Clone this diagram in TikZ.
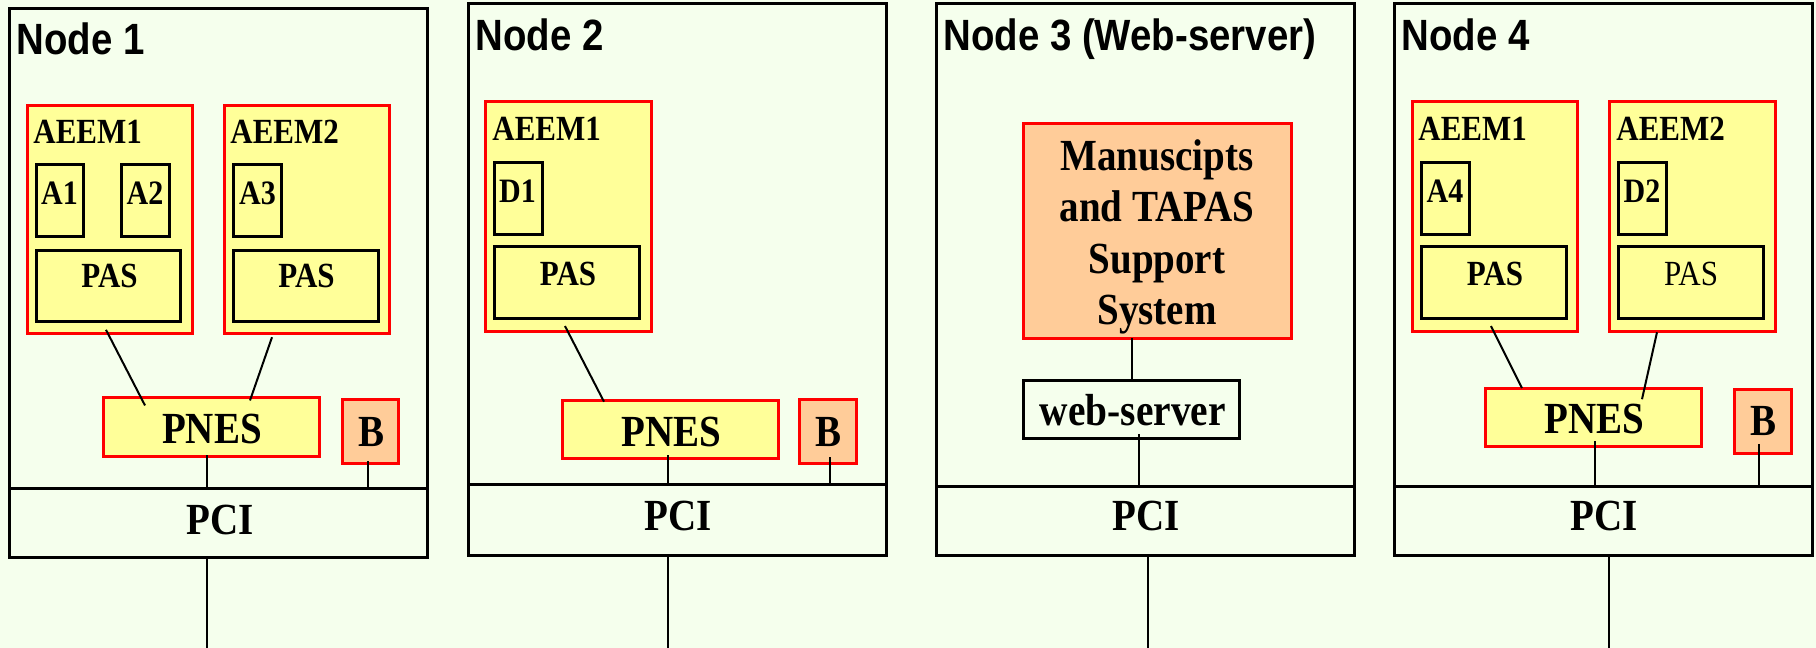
\documentclass[tikz,border=0pt]{standalone}
\usepackage{graphicx}
\usepackage{fontspec}
\setmainfont{Liberation Serif}
\newfontfamily\titlefont{Liberation Sans}
\usetikzlibrary{fit,calc}
\definecolor{bgc}{RGB}{245,255,237}
\definecolor{yel}{RGB}{255,255,153}
\definecolor{peach}{RGB}{255,204,153}
\definecolor{redb}{RGB}{255,0,0}
\newcommand{\ys}[1]{\scalebox{1}[1.14]{#1}}
\tikzset{
  nodebox/.style={draw=black, line width=1.5pt, inner sep=0pt, outer sep=0pt, rectangle},
  aeem/.style={draw=redb, fill=yel, line width=1.5pt, inner sep=0pt, outer sep=0pt, rectangle},
  inbox/.style={draw=black, fill=yel, line width=1.5pt, inner sep=0pt, outer sep=0pt, rectangle},
  bbox/.style={draw=redb, fill=peach, line width=1.5pt, inner sep=0pt, outer sep=0pt, rectangle},
  wsbox/.style={draw=black, fill=bgc, line width=1.5pt, inner sep=0pt, outer sep=0pt, rectangle},
  titletext/.style={font=\titlefont\bfseries\fontsize{19.2}{21}\selectfont, anchor=base west, inner sep=0pt},
  labtext/.style={font=\bfseries\fontsize{15.5}{17}\selectfont, anchor=base west, inner sep=0pt},
  smalltext/.style={font=\bfseries\fontsize{15}{17}\selectfont, anchor=base, inner sep=0pt},
  pastext/.style={font=\bfseries\fontsize{15.5}{17}\selectfont, anchor=base, inner sep=0pt},
  bigtext/.style={font=\bfseries\fontsize{19.5}{21}\selectfont, anchor=base, inner sep=0pt},
  link/.style={draw=black, line width=1pt},
}
\begin{document}
\begin{tikzpicture}[x=0.5pt, y=-0.6199pt]
\fill[bgc] (0,0) rectangle (1816,522.66);
\useasboundingbox (0,0) rectangle (1816,522.66);

% ---------------- Node 1 ----------------
\node[nodebox, fit={(9,7)(427,450)}] (n1) {};
\node[nodebox, fit={(9,394)(427,450)}] (n1pci) {};
\node[bigtext] (n1pcit) at (220,431) {\ys{PCI}};
\node[titletext] (n1t) at (16,44) {\ys{Node 1}};
\node[aeem, fit={(27,85)(192,269)}] (n1e1) {};
\node[labtext] (n1e1t) at (33,116) {\ys{AEEM1}};
\node[inbox, fit={(36,133)(83,191)}] (n1a1) {};
\node[smalltext] (n1a1t) at (59.5,165) {\ys{A1}};
\node[inbox, fit={(121,133)(169,191)}] (n1a2) {};
\node[smalltext] (n1a2t) at (145,165) {\ys{A2}};
\node[inbox, fit={(36,202)(180,259)}] (n1p1) {};
\node[pastext] (n1p1t) at (109.5,232) {\ys{PAS}};
\node[aeem, fit={(224,85)(389,269)}] (n1e2) {};
\node[labtext] (n1e2t) at (230,116) {\ys{AEEM2}};
\node[inbox, fit={(233,133)(281,191)}] (n1a3) {};
\node[smalltext] (n1a3t) at (257.5,165) {\ys{A3}};
\node[inbox, fit={(233,202)(378,259)}] (n1p2) {};
\node[pastext] (n1p2t) at (306.5,232) {\ys{PAS}};
\node[aeem, fit={(103,321)(319,368)}] (n1pnes) {};
\node[bigtext] (n1pnest) at (212,358) {\ys{PNES}};
\node[bbox, fit={(342,322)(398,374)}] (n1b) {};
\node[bigtext] (n1bt) at (372,360) {\ys{B}};
\draw[link] ($(n1e1.south west)+(79,-3)$) -- ($(n1pnes.north west)+(42,6)$);
\draw[link] ($(n1e2.south west)+(48,3)$) -- ($(n1pnes.north west)+(147,2)$);
\draw[link] ($(n1pnes.south west)+(104,-1)$) -- ($(n1pci.north west)+(198,0)$);
\draw[link] ($(n1b.south west)+(26,-2)$) -- ($(n1pci.north west)+(359,0)$);
\coordinate (n1end) at (207,522.66);
\draw[link] ($(n1pci.south west)+(198,0)$) -- (n1end);

% ---------------- Node 2 ----------------
\node[nodebox, fit={(468,3)(886,448)}] (n2) {};
\node[nodebox, fit={(468,391)(886,448)}] (n2pci) {};
\node[bigtext] (n2pcit) at (678.5,428) {\ys{PCI}};
\node[titletext] (n2t) at (475,41) {\ys{Node 2}};
\node[aeem, fit={(485,82)(651,267)}] (n2e1) {};
\node[labtext] (n2e1t) at (492,113) {\ys{AEEM1}};
\node[inbox, fit={(494,131)(542,189)}] (n2d1) {};
\node[smalltext] (n2d1t) at (517.5,163) {\ys{D1}};
\node[inbox, fit={(494,199)(639,257)}] (n2p1) {};
\node[pastext] (n2p1t) at (568,230) {\ys{PAS}};
\node[aeem, fit={(562,323)(778,370)}] (n2pnes) {};
\node[bigtext] (n2pnest) at (671.5,360) {\ys{PNES}};
\node[bbox, fit={(799,322)(856,374)}] (n2b) {};
\node[bigtext] (n2bt) at (828.5,360) {\ys{B}};
\draw[link] ($(n2e1.south west)+(80,-4)$) -- ($(n2pnes.north west)+(42,1)$);
\draw[link] ($(n2pnes.south west)+(106,-3)$) -- ($(n2pci.north west)+(200,0)$);
\draw[link] ($(n2b.south west)+(31,-5)$) -- ($(n2pci.north west)+(362,0)$);
\coordinate (n2end) at (668,522.66);
\draw[link] ($(n2pci.south west)+(200,0)$) -- (n2end);

% ---------------- Node 3 ----------------
\node[nodebox, fit={(936,3)(1354,448)}] (n3) {};
\node[nodebox, fit={(936,392)(1354,448)}] (n3pci) {};
\node[bigtext] (n3pcit) at (1146,428) {\ys{PCI}};
\node[titletext] (n3t) at (943,41) {\ys{Node 3 (Web-server)}};
\node[bbox, fit={(1023,100)(1291,273)}] (n3ms) {};
\node[font=\bfseries\fontsize{19.5}{25.7}\selectfont, align=center, inner sep=0pt] (n3mst) at (1157,191) {\ys{Manuscipts}\\\ys{and TAPAS}\\\ys{Support}\\\ys{System}};
\node[wsbox, fit={(1023,307)(1239,354)}] (n3ws) {};
\node[font=\bfseries\fontsize{19.7}{21}\selectfont, anchor=base, inner sep=0pt] (n3wst) at (1132.7,343) {\ys{web-server}};
\draw[link] ($(n3ms.south west)+(109,0)$) -- ($(n3ws.north west)+(109,0)$);
\draw[link] ($(n3ws.south west)+(116,-4)$) -- ($(n3pci.north west)+(203,0)$);
\coordinate (n3end) at (1148,522.66);
\draw[link] ($(n3pci.south west)+(212,0)$) -- (n3end);

% ---------------- Node 4 ----------------
\node[nodebox, fit={(1394,3)(1812,448)}] (n4) {};
\node[nodebox, fit={(1394,392)(1812,448)}] (n4pci) {};
\node[bigtext] (n4pcit) at (1604.5,428) {\ys{PCI}};
\node[titletext] (n4t) at (1401,41) {\ys{Node 4}};
\node[aeem, fit={(1412,82)(1577,267)}] (n4e1) {};
\node[labtext] (n4e1t) at (1418,113) {\ys{AEEM1}};
\node[inbox, fit={(1421,131)(1469,189)}] (n4a4) {};
\node[smalltext] (n4a4t) at (1445,163) {\ys{A4}};
\node[inbox, fit={(1421,199)(1566,257)}] (n4p1) {};
\node[pastext] (n4p1t) at (1495,230) {\ys{PAS}};
\node[aeem, fit={(1609,82)(1775,267)}] (n4e2) {};
\node[labtext] (n4e2t) at (1616,113) {\ys{AEEM2}};
\node[inbox, fit={(1618,131)(1666,189)}] (n4d2) {};
\node[smalltext] (n4d2t) at (1642,163) {\ys{D2}};
\node[inbox, fit={(1618,199)(1763,257)}] (n4p2) {};
\node[font=\fontsize{15.5}{17}\selectfont, anchor=base, inner sep=0pt] (n4p2t) at (1691,230) {\ys{PAS}};
\node[aeem, fit={(1485,313)(1701,360)}] (n4pnes) {};
\node[bigtext] (n4pnest) at (1594,350) {\ys{PNES}};
\node[bbox, fit={(1734,314)(1791,366)}] (n4b) {};
\node[bigtext] (n4bt) at (1763.5,351) {\ys{B}};
\draw[link] ($(n4e1.south west)+(79,-4)$) -- ($(n4pnes.north west)+(37,0)$);
\draw[link] ($(n4e2.south west)+(48,1)$) -- ($(n4pnes.north west)+(157,9)$);
\draw[link] ($(n4pnes.south west)+(110,-4)$) -- ($(n4pci.north west)+(201,0)$);
\draw[link] ($(n4b.south west)+(25,-8)$) -- ($(n4pci.north west)+(365,0)$);
\coordinate (n4end) at (1609,522.66);
\draw[link] ($(n4pci.south west)+(215,0)$) -- (n4end);
\end{tikzpicture}
\end{document}
